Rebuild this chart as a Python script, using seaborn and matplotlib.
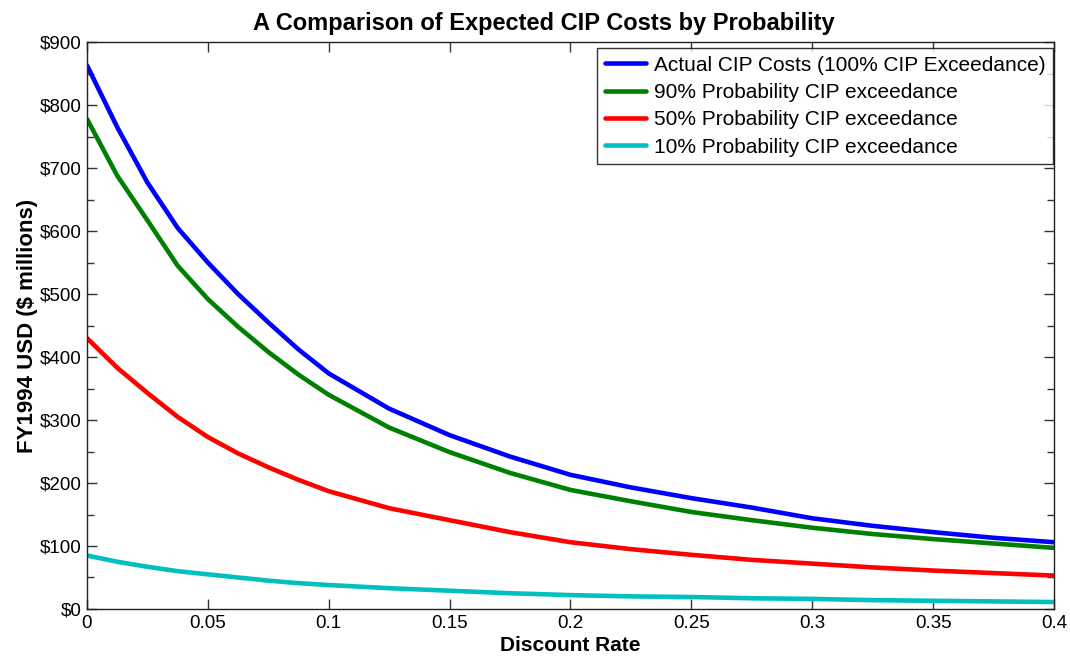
import numpy as np
import pandas as pd
import matplotlib
matplotlib.use("Agg")
import matplotlib.pyplot as plt
from matplotlib.ticker import MultipleLocator, FuncFormatter
import seaborn as sns

# discount rates
rates = [0, 0.0125, 0.025, 0.0375, 0.05, 0.0625, 0.075, 0.0875, 0.1, 0.125,
         0.15, 0.175, 0.2, 0.225, 0.25, 0.275, 0.3, 0.325, 0.35, 0.375, 0.4]

# expected costs, $ millions
actual = [863, 765, 677, 605, 550, 500, 455, 412, 374, 318,
          276, 242, 213, 193, 176, 161, 144, 132, 122, 113, 106]
p90 = [778, 688, 617, 545, 492, 448, 408, 372, 340, 288,
       249, 216, 189, 171, 154, 141, 129, 119, 111, 104, 97]
p50 = [430, 383, 343, 305, 273, 247, 225, 205, 187, 160,
       141, 122, 106, 95, 86, 78, 72, 66, 61, 57, 53]
p10 = [85, 75, 67, 60, 55, 50, 45, 41, 38, 33,
       29, 25, 22, 20, 19, 17, 16, 14, 13, 12, 11]

labels = ["Actual CIP Costs (100% CIP Exceedance)",
          "90% Probability CIP exceedance",
          "50% Probability CIP exceedance",
          "10% Probability CIP exceedance"]
colors = ["#0000ff", "#008000", "#ff0000", "#00bfbf"]

frames = []
for lab, vals in zip(labels, [actual, p90, p50, p10]):
    frames.append(pd.DataFrame({"rate": rates, "cost": vals, "series": lab}))
df = pd.concat(frames, ignore_index=True)

sns.set_style("ticks")
plt.rcParams["font.family"] = ["Liberation Sans", "DejaVu Sans"]
plt.rcParams["text.color"] = "black"
plt.rcParams["axes.labelcolor"] = "black"
plt.rcParams["xtick.color"] = "black"
plt.rcParams["ytick.color"] = "black"

fig = plt.figure(figsize=(10.7, 6.58), dpi=100)
ax = fig.add_axes([0.0813, 0.0745, 0.9037, 0.8615])

sns.lineplot(data=df, x="rate", y="cost", hue="series", palette=colors,
             linewidth=3.3, ax=ax, legend=False)

ax.set_xlim(0, 0.4)
ax.set_ylim(0, 900)
ax.xaxis.set_major_locator(MultipleLocator(0.05))
ax.yaxis.set_major_locator(MultipleLocator(100))
ax.yaxis.set_minor_locator(MultipleLocator(50))
ax.xaxis.set_major_formatter(FuncFormatter(lambda v, p: "0" if v == 0 else f"{v:g}"))
ax.yaxis.set_major_formatter(FuncFormatter(lambda v, p: f"${v:.0f}"))
ax.tick_params(which="both", direction="in", top=True, right=True,
               labelsize=13.5, color="#333333", width=1)
ax.tick_params(which="major", length=7, pad=4)
ax.tick_params(which="minor", length=5)
for s in ax.spines.values():
    s.set_visible(True)
    s.set_color("#222222")
    s.set_linewidth(1)

ax.set_xlabel("Discount Rate", fontsize=15, fontweight="bold", labelpad=3)
ax.set_ylabel("FY1994 USD ($ millions)", fontsize=16, fontweight="bold", labelpad=1)
ax.set_title("A Comparison of Expected CIP Costs by Probability",
             fontsize=17, fontweight="bold", pad=9, x=0.472)

handles = [plt.Line2D([], [], color=c, linewidth=3.3) for c in colors]
leg = ax.legend(handles, labels, loc="upper right", fontsize=15,
                frameon=True, fancybox=False, handlelength=2.0,
                handletextpad=0.35, borderaxespad=0.3, labelspacing=0.4,
                borderpad=0.35, bbox_to_anchor=(1.005, 1.0))
leg.get_frame().set_edgecolor("black")
leg.get_frame().set_linewidth(1)

fig.savefig("out.png", dpi=100)
